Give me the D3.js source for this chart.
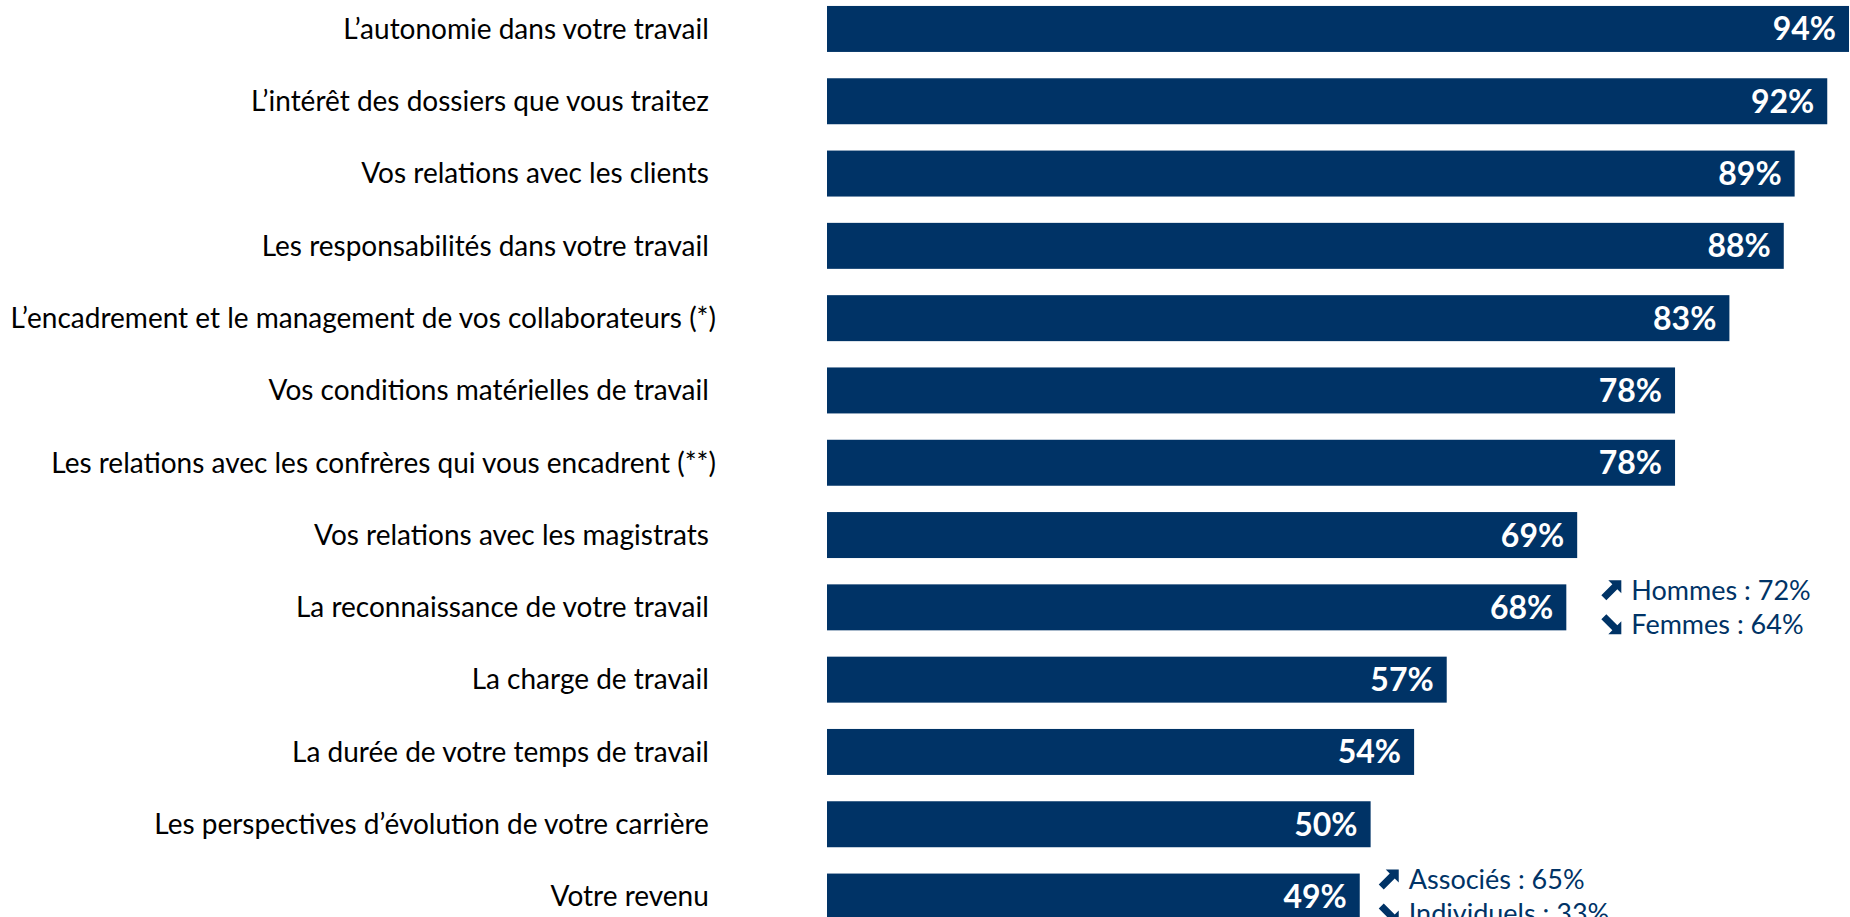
<!DOCTYPE html>
<html>
<head>
<meta charset="utf-8">
<script src="https://d3js.org/d3.v7.min.js"></script>
<style>
  body { margin: 0; background: #fff; overflow: hidden; }
  svg { display: block; }
  .cat { font-family: Lato, "Open Sans", sans-serif; font-size: 28px; fill: #000; white-space: pre; }
  .val { font-family: Lato, "Open Sans", sans-serif; font-size: 32px; font-weight: bold; fill: #fff; }
  .note { font-family: Lato, "Open Sans", sans-serif; font-size: 27px; fill: #003366; }
</style>
</head>
<body>
<svg width="1850" height="917"></svg>
<script>
// categories (trailing space kept as in the original slide)
var categories = [
  "L\u2019autonomie dans votre travail ",
  "L\u2019int\u00e9r\u00eat des dossiers que vous traitez ",
  "Vos relations avec les clients ",
  "Les responsabilit\u00e9s dans votre travail ",
  "L\u2019encadrement et le management de vos collaborateurs (*)",
  "Vos conditions mat\u00e9rielles de travail ",
  "Les relations avec les confr\u00e8res qui vous encadrent (**)",
  "Vos relations avec les magistrats ",
  "La reconnaissance de votre travail ",
  "La charge de travail ",
  "La dur\u00e9e de votre temps de travail ",
  "Les perspectives d\u2019\u00e9volution de votre carri\u00e8re ",
  "Votre revenu "
];
var values = [94, 92, 89, 88, 83, 78, 78, 69, 68, 57, 54, 50, 49];

// sub-group notes attached to two bars
var noteCategories = [8, 12];
var noteUp = ["Hommes : 72%", "Associ\u00e9s : 65%"];
var noteDown = ["Femmes : 64%", "Individuels : 33%"];

var data = categories.map(function(c, i) { return { cat: c, value: values[i], idx: i }; });

var svg = d3.select("svg");
var barColor = "#003366";

var x = d3.scaleLinear().domain([0, 94]).range([827, 1849]);

var y = d3.scaleBand()
    .domain(d3.range(categories.length))
    .range([-7.2, -7.2 + 13 * 72.3])
    .paddingInner(0.364)
    .paddingOuter(0.182);

var row = svg.selectAll(".row")
    .data(data)
  .enter().append("g")
    .attr("class", "row");

row.append("rect")
    .attr("x", x(0))
    .attr("y", function(d) { return y(d.idx); })
    .attr("width", function(d) { return x(d.value) - x(0); })
    .attr("height", y.bandwidth())
    .attr("fill", barColor);

row.append("text")
    .attr("class", "cat")
    .attr("x", 716)
    .attr("y", function(d) { return y(d.idx) + y.bandwidth() / 2; })
    .attr("dy", "0.35em")
    .attr("text-anchor", "end")
    .text(function(d) { return d.cat; });

row.append("text")
    .attr("class", "val")
    .attr("x", function(d) { return x(d.value) - 13; })
    .attr("y", function(d) { return y(d.idx) + y.bandwidth() / 2; })
    .attr("dy", "0.36em")
    .attr("text-anchor", "end")
    .text(function(d) { return d.value + "%"; });

// heavy diagonal arrow, drawn pointing up-right in a 20x20 box
var arrowPath = "M7,0 L20,0 L20,13 L16,9 L5,20 L0,15 L11,4 Z";

// notes next to bars
var noteGap = [35, 19];
noteCategories.forEach(function(ci, k) {
  var x0 = x(values[ci]) + noteGap[k];
  var cy = y(ci) + y.bandwidth() / 2;
  var g = svg.append("g");
  g.append("path").attr("d", arrowPath).attr("fill", barColor)
    .attr("transform", "translate(" + x0 + "," + (cy - 27) + ")");
  g.append("text").attr("class", "note").attr("x", x0 + 30).attr("y", cy - 17).attr("dy", "0.35em").text(noteUp[k]);
  g.append("path").attr("d", arrowPath).attr("fill", barColor)
    .attr("transform", "translate(" + x0 + "," + (cy + 7) + ") rotate(90,10,10)");
  g.append("text").attr("class", "note").attr("x", x0 + 30).attr("y", cy + 17).attr("dy", "0.35em").text(noteDown[k]);
});
</script>
</body>
</html>
